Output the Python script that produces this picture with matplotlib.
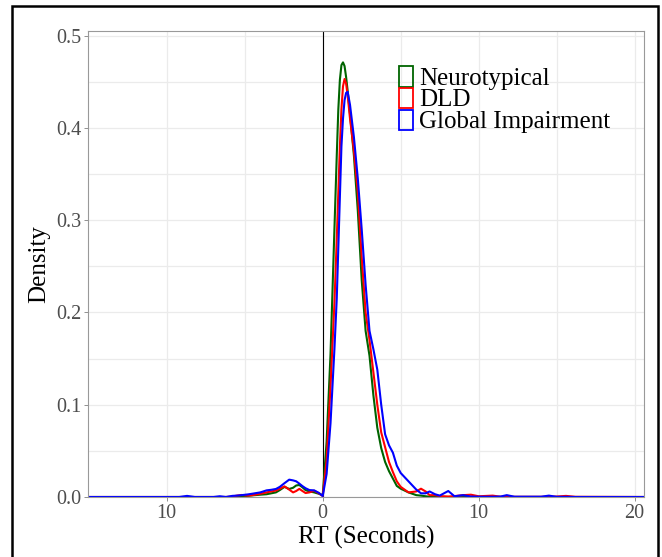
import matplotlib
matplotlib.use("Agg")
import matplotlib.pyplot as plt
from matplotlib.patches import Rectangle
from matplotlib.ticker import FixedLocator, FuncFormatter

plt.rcParams["font.family"] = ["Liberation Serif", "DejaVu Serif"]

# density estimates, shared RT grid (seconds)
rt_grid = [-15.1, -9.2, -8.7, -8.2, -7.0, -6.6, -6.2, -5.8, -5.5, -5.2,
           -4.8, -4.5, -4.0, -3.6, -3.3, -3.0, -2.75, -2.45, -2.15, -1.9,
           -1.7, -1.5, -1.3, -1.1, -0.85, -0.55, -0.25, 0.0, 0.25, 0.5,
           0.75, 0.9, 1.0, 1.1, 1.2, 1.3, 1.4, 1.5, 1.6, 1.75,
           2.0, 2.25, 2.5, 2.75, 3.0, 3.25, 3.5, 3.75, 4.0, 4.25,
           4.5, 4.75, 5.0, 5.5, 6.0, 6.3, 6.6, 6.85, 7.2, 7.5,
           8.05, 8.45, 9.0, 9.5, 10.0, 10.9, 11.4, 11.8, 12.3, 14.0,
           14.5, 15.0, 15.6, 16.2, 20.7]

dens_neuro = [0, 0, 0, 0, 0, 0, 0, 0, 0.0003, 0.0008,
              0.0012, 0.0018, 0.0025, 0.003, 0.004, 0.005, 0.0075, 0.011, 0.0087, 0.01,
              0.0125, 0.013, 0.0105, 0.0075, 0.006, 0.005, 0.0035, 0.002, 0.06, 0.155,
              0.29, 0.37, 0.42, 0.452, 0.468, 0.471, 0.467, 0.455, 0.44, 0.415,
              0.37, 0.31, 0.235, 0.18, 0.153, 0.11, 0.075, 0.053, 0.038, 0.028,
              0.02, 0.012, 0.009, 0.005, 0.002, 0.0015, 0.0008, 0.0003, 0.0005, 0.0002,
              0, 0, 0.0003, 0, 0, 0, 0, 0, 0, 0,
              0, 0, 0, 0, 0]

dens_dld = [0, 0, 0, 0, 0, 0, 0, 0.0005, 0.0015, 0.0022,
            0.0015, 0.002, 0.0035, 0.005, 0.006, 0.007, 0.009, 0.0115, 0.008, 0.005,
            0.0065, 0.0088, 0.0065, 0.0043, 0.005, 0.0068, 0.004, 0.001, 0.04, 0.12,
            0.21, 0.28, 0.33, 0.38, 0.42, 0.445, 0.453, 0.448, 0.435, 0.41,
            0.375, 0.33, 0.26, 0.2, 0.17, 0.135, 0.1, 0.07, 0.054, 0.038,
            0.027, 0.017, 0.011, 0.005, 0.006, 0.009, 0.006, 0.002, 0.002, 0.001,
            0.0005, 0.001, 0.002, 0.0025, 0.0008, 0.0015, 0.0003, 0.0002, 0.0002, 0.0002,
            0.0003, 0.0005, 0.0012, 0.0002, 0]

dens_global = [0, 0, 0.0012, 0, 0, 0.0008, 0, 0.0012, 0.0015, 0.002,
               0.0028, 0.0036, 0.005, 0.0072, 0.0078, 0.0087, 0.011, 0.015, 0.0188, 0.018,
               0.017, 0.0145, 0.0118, 0.0095, 0.0075, 0.0072, 0.0045, 0.001, 0.025, 0.08,
               0.16, 0.215, 0.27, 0.325, 0.38, 0.41, 0.43, 0.438, 0.439, 0.425,
               0.39, 0.345, 0.29, 0.23, 0.18, 0.16, 0.138, 0.1, 0.068, 0.056,
               0.048, 0.034, 0.026, 0.017, 0.008, 0.004, 0.004, 0.006, 0.003, 0.0015,
               0.0065, 0.0008, 0.002, 0.0005, 0.0003, 0.0003, 0.0005, 0.002, 0.0003, 0.0003,
               0.0015, 0.0002, 0.0002, 0, 0]

group_names = ["Neurotypical", "DLD", "Global Impairment"]
group_colors = ["#006400", "#ff0000", "#0000ff"]
x_ticks = [-10, 0, 10, 20]
x_minor = [-5, 5, 15]
y_ticks = [0.0, 0.1, 0.2, 0.3, 0.4, 0.5]
y_minor = [0.05, 0.15, 0.25, 0.35, 0.45]

W, H = 662, 557
fig = plt.figure(figsize=(W / 100, H / 100), dpi=100)
ax = fig.add_axes([88 / W, 1 - 497 / H, (644 - 88) / W, (497 - 31) / H])

# grid, like ggplot's theme_minimal + border
for v in x_ticks + x_minor:
    ax.axvline(v, color="#ebebeb", lw=0.9, zorder=0)
for v in y_ticks + y_minor:
    ax.axhline(v, color="#ebebeb", lw=0.9, zorder=0)
ax.axvline(0, color="black", lw=0.8, zorder=1)

for dens, col in zip([dens_neuro, dens_dld, dens_global], group_colors):
    ax.plot(rt_grid, dens, color=col, lw=1.5, zorder=2, solid_joinstyle="round")

ax.set_xlim(-15.05, 20.6)
ax.set_ylim(0, 0.505)
ax.xaxis.set_major_locator(FixedLocator(x_ticks))
ax.yaxis.set_major_locator(FixedLocator(y_ticks))
ax.xaxis.set_major_formatter(FuncFormatter(lambda v, _: f"{abs(v):g}"))
ax.yaxis.set_major_formatter(FuncFormatter(lambda v, _: f"{v:.1f}"))
ax.tick_params(axis="both", length=3, width=0.6, color="#7f7f7f", pad=2,
               labelsize=14.5, labelcolor="#4d4d4d")
for sp in ax.spines.values():
    sp.set_color("#999999")
    sp.set_linewidth(0.8)

ax.set_xlabel("RT (Seconds)", fontsize=18, labelpad=2)
ax.set_ylabel("Density", fontsize=18, labelpad=4)

# legend: outlined square keys
key_x, key_w, key_h, top, pitch = 398.5, 14, 20, 66.5, 21.7
for i, (name, col) in enumerate(zip(group_names, group_colors)):
    y0 = top + i * pitch
    fig.add_artist(Rectangle((key_x / W, 1 - (y0 + key_h) / H), key_w / W, key_h / H,
                             transform=fig.transFigure, fill=False,
                             edgecolor=col, lw=1.3))
    fig.text(419 / W, 1 - (y0 + key_h - 2) / H, name, fontsize=18,
             ha="left", va="baseline")

# black frame round the figure
fig.add_artist(Rectangle((12 / W, -0.01), (658 - 12) / W, 1.01 - 6 / H,
                         transform=fig.transFigure, fill=False,
                         edgecolor="black", lw=1.8))

fig.savefig("out.png", dpi=100)
